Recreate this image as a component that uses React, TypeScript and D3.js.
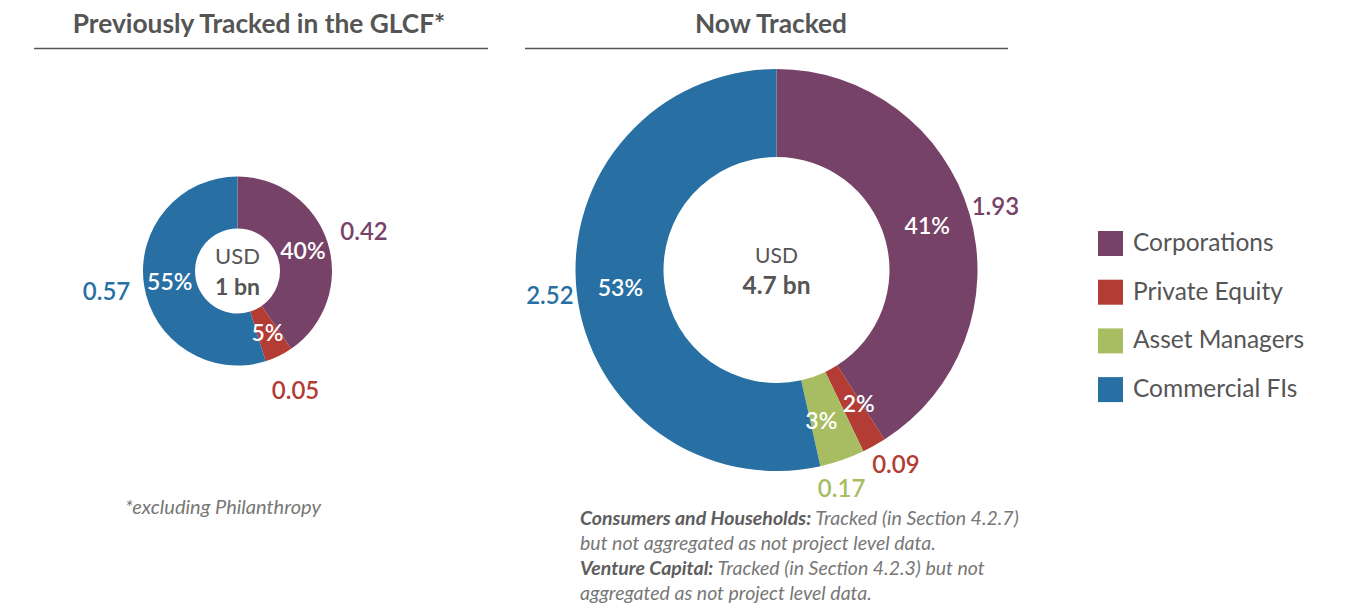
import React from "react";
import * as d3 from "d3";

const categories = ["Corporations", "Private Equity", "Asset Managers", "Commercial FIs"];
const colors = ["#774268", "#b33c35", "#a8bd62", "#2870a3"];
const previousValues = [0.42, 0.05, 0, 0.57];
const previousPercents = ["40%", "5%", "", "55%"];
const nowValues = [1.93, 0.09, 0.17, 2.52];
const nowPercents = ["41%", "2%", "3%", "53%"];
const previousTotal = "1 bn";
const nowTotal = "4.7 bn";

const FONT = "Lato, 'Open Sans', sans-serif";
const GREY = "#555555";

type Lbl = { i: number; ang: number; text: string; w: number; h: number };

// Spread labels along a circle of radius r so their boxes do not overlap.
function spread(labels: Lbl[], r: number, gap: number) {
  const pos = (l: Lbl) => [Math.sin(l.ang) * r, -Math.cos(l.ang) * r];
  for (let iter = 0; iter < 400; iter++) {
    let moved = false;
    for (let k = 0; k < labels.length - 1; k++) {
      const a = labels[k];
      const b = labels[k + 1];
      const [ax, ay] = pos(a);
      const [bx, by] = pos(b);
      const ox = (a.w + b.w) / 2 + gap - Math.abs(ax - bx);
      const oy = (a.h + b.h) / 2 + gap - Math.abs(ay - by);
      if (ox > 0 && oy > 0) {
        a.ang -= 0.004;
        b.ang += 0.004;
        moved = true;
      }
    }
    if (!moved) break;
  }
  return labels.map((l) => ({ ...l, x: Math.sin(l.ang) * r, y: -Math.cos(l.ang) * r }));
}

type DonutProps = {
  cx: number;
  cy: number;
  outer: number;
  inner: number;
  values: number[];
  percents: string[];
  total: string;
  pctSize: number;
  valSize: number;
  labelPad: number;
  usdSize: number;
  totalSize: number;
};

function Donut({ cx, cy, outer, inner, values, percents, total, pctSize, valSize, labelPad, usdSize, totalSize }: DonutProps) {
  const pie = d3.pie<number>().sort(null).value((d) => d);
  const arcs = pie(values);
  const arc = d3.arc<d3.PieArcDatum<number>>().innerRadius(inner).outerRadius(outer);
  const mid = (inner + outer) / 2;
  const outR = outer + labelPad;
  const fmt = d3.format(".2f");
  const shown = arcs.filter((a) => a.value > 0);
  const inLabels = spread(
    shown.map((a) => ({ i: a.index, ang: (a.startAngle + a.endAngle) / 2, text: percents[a.index], w: percents[a.index].length * pctSize * 0.55, h: pctSize * 0.8 })),
    mid, 12
  );
  const outLabels = spread(
    shown.map((a) => ({ i: a.index, ang: (a.startAngle + a.endAngle) / 2, text: fmt(values[a.index]), w: fmt(values[a.index]).length * valSize * 0.5, h: valSize * 0.75 })),
    outR, 6
  );
  return (
    <g transform={`translate(${cx},${cy})`}>
      {arcs.map((a, i) =>
        a.value > 0 ? <path key={i} d={arc(a) || ""} fill={colors[i]} /> : null
      )}
      {inLabels.map((l) => (
        <text key={"p" + l.i} x={l.x} y={l.y} dy="0.36em" textAnchor="middle" fill="#fff" fontSize={pctSize} fontWeight={600} fontFamily={FONT}>
          {l.text}
        </text>
      ))}
      {outLabels.map((l) => (
        <text key={"v" + l.i} x={l.x} y={l.y} dy="0.36em" textAnchor="middle" fill={colors[l.i]} fontSize={valSize} fontWeight={600} fontFamily={FONT}>
          {l.text}
        </text>
      ))}
      <text x={0} y={-7} textAnchor="middle" fill={GREY} fontSize={usdSize} fontFamily={FONT}>USD</text>
      <text x={0} y={24} textAnchor="middle" fill={GREY} fontSize={totalSize} fontWeight={700} fontFamily={FONT}>{total}</text>
    </g>
  );
}

export default function App() {
  return (
    <svg width={1345} height={608} style={{ position: "absolute", left: 0, top: 0, background: "#fff" }}>
      {/* Titles */}
      <text x={259} y={33} textAnchor="middle" fill={GREY} fontSize={26.3} fontWeight={700} fontFamily={FONT}>
        Previously Tracked in the GLCF*
      </text>
      <line x1={34} x2={488} y1={48.5} y2={48.5} stroke={GREY} strokeWidth={1.5} />
      <text x={771} y={33} textAnchor="middle" fill={GREY} fontSize={26.3} fontWeight={700} fontFamily={FONT}>
        Now Tracked
      </text>
      <line x1={525} x2={1008} y1={48.5} y2={48.5} stroke={GREY} strokeWidth={1.5} />

      <Donut cx={237.5} cy={271} outer={94.5} inner={42.5} values={previousValues} percents={previousPercents}
        total={previousTotal} pctSize={23} valSize={24} labelPad={38} usdSize={22} totalSize={23} />
      <Donut cx={776.5} cy={270} outer={201} inner={113} values={nowValues} percents={nowPercents}
        total={nowTotal} pctSize={23} valSize={24} labelPad={27} usdSize={21} totalSize={24.5} />

      {/* Legend */}
      {categories.map((c, i) => (
        <g key={c} transform={`translate(1098,${231 + i * 48.7})`}>
          <rect width={25} height={25} fill={colors[i]} />
          <text x={35} y={20} fill={GREY} fontSize={24.5} fontFamily={FONT}>{c}</text>
        </g>
      ))}

      {/* Footnotes */}
      <text x={223} y={514} textAnchor="middle" fill="#777" fontSize={20} fontStyle="italic" fontFamily={FONT}>
        *excluding Philanthropy
      </text>
      <g fill="#777" fontSize={19.5} fontStyle="italic" fontFamily={FONT}>
        <text x={580} y={525}>
          <tspan fontWeight={700} fill="#5e5e5e">Consumers and Households:</tspan> Tracked (in Section 4.2.7)
        </text>
        <text x={580} y={550}>but not aggregated as not project level data.</text>
        <text x={580} y={575}>
          <tspan fontWeight={700} fill="#5e5e5e">Venture Capital:</tspan> Tracked (in Section 4.2.3) but not
        </text>
        <text x={580} y={600}>aggregated as not project level data.</text>
      </g>
    </svg>
  );
}
